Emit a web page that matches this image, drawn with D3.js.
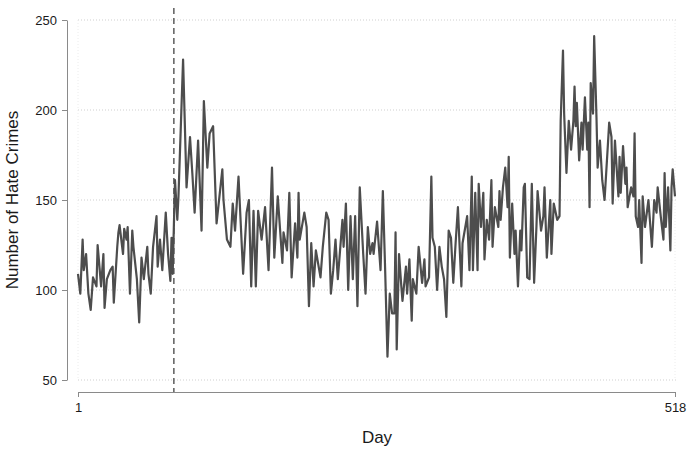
<!DOCTYPE html>
<html>
<head>
<meta charset="utf-8">
<script src="https://cdn.jsdelivr.net/npm/d3@7"></script>
<style>
  html, body { margin: 0; padding: 0; background: #fff; }
  svg { display: block; font-family: "Liberation Sans", Arial, Helvetica, sans-serif; }
</style>
</head>
<body>
<svg id="chart" width="700" height="457"></svg>
<script>
// Day index of each reading
const days = [
  1,3,5,6,8,10,12,14,17,18,21,23,24,26,29,31,32,35,36,37,40,41,43,44,46,48,49,52,54,56,58,61,
  62,64,66,69,70,72,74,77,79,81,82,83,
  85,87,88,92,95,98,100,102,105,108,110,113,115,118,121,126,127,130,133,135,137,140,
  144,147,149,151,153,155,157,160,163,166,169,171,174,178,179,182,184,186,189,191,192,193,
  197,199,201,203,205,207,211,213,216,218,220,222,224,226,230,231,233,235,237,239,241,243,
  245,248,250,252,254,256,257,260,263,265,267,269,271,273,275,276,277,279,281,282,285,286,
  288,290,291,294,296,299,301,302,305,307,308,310,312,314,316,318,320,322,324,326,328,330,
  333,334,338,340,342,343,345,347,348,350,352,353,355,357,359,360,362,365,366,367,369,371,
  373,374,375,377,379,380,382,384,385,387,388,390,392,394,396,398,399,402,404,405,407,410,
  411,413,416,418,419,421,422,424,426,428,430,431,432,433,435,437,438,440,442,443,444,445,
  447,448,450,451,453,455,457,460,461,463,464,466,469,470,471,473,475,476,477,480,482,483,
  484,486,487,489,490,492,495,496,498,500,502,503,506,508,509,510,512,514,515,516,518
];
// Number of hate crimes on those days
const crimes = [
  109,98,128,111,120,98,89,107,102,125,102,120,90,106,111,113,93,124,132,136,120,134,128,135,98,133,124,106,82,118,106,124,
  109,98,124,141,113,128,111,143,120,105,129,109,
  161,139,152,228,157,185,165,143,183,133,205,168,187,191,137,167,150,128,124,148,133,163,
  109,143,150,102,144,102,144,128,146,111,168,118,152,115,132,122,154,107,137,118,154,128,
  143,135,91,126,102,122,107,124,143,139,98,111,128,106,139,124,148,100,141,106,141,91,
  157,120,98,135,120,126,120,138,111,155,111,63,98,87,87,132,67,120,102,94,113,98,
  117,83,106,98,124,104,117,102,107,163,129,124,100,124,113,106,85,133,129,104,126,146,
  102,126,141,111,163,111,154,111,159,135,154,117,139,128,161,124,146,135,155,139,157,168,
  146,174,118,148,120,133,102,133,122,157,159,107,106,159,104,135,155,133,141,157,118,150,
  120,148,139,141,194,233,198,165,194,178,194,213,191,204,172,193,178,207,178,193,146,215,
  198,241,196,168,183,161,150,182,193,185,148,183,152,174,154,180,159,168,146,157,152,187,
  141,135,150,115,152,135,150,141,124,150,143,157,139,128,165,135,157,122,157,167,152
];
const yTicks = [50, 100, 150, 200, 250];
const xTicks = [1, 518];
const eventDay = 84;
const xTitle = "Day";
const yTitle = "Number of Hate Crimes";

const data = days.map((d, i) => ({ day: d, value: crimes[i] }));

const svg = d3.select("#chart");
const x = d3.scaleLinear().domain([1, 518]).range([78, 675]);
const y = d3.scaleLinear().domain([50, 250]).range([380, 20]);

// horizontal dotted gridlines
svg.append("g").selectAll("line").data(yTicks).join("line")
  .attr("x1", 78).attr("x2", 677)
  .attr("y1", d => y(d)).attr("y2", d => y(d))
  .attr("stroke", "#cfcfcf").attr("stroke-width", 1)
  .attr("stroke-dasharray", "1,2");

// faint vertical gridlines at the x ticks
svg.append("g").selectAll("line").data(xTicks).join("line")
  .attr("x1", d => x(d)).attr("x2", d => x(d))
  .attr("y1", y(250)).attr("y2", y(50))
  .attr("stroke", "#ececec").attr("stroke-width", 1)
  .attr("stroke-dasharray", "1,2");

// y axis
const yAxis = svg.append("g")
  .attr("transform", "translate(67,0)")
  .call(d3.axisLeft(y).tickValues(yTicks).tickSize(5).tickSizeOuter(0).tickPadding(5));
yAxis.select(".domain").attr("stroke", "#8a8a8a");
yAxis.selectAll(".tick line").attr("stroke", "#8a8a8a");
yAxis.selectAll(".tick text").attr("font-size", 13).attr("fill", "#1a1a1a")
  .attr("font-family", "Liberation Sans, Arial, sans-serif");

// x axis
const xAxis = svg.append("g")
  .attr("transform", "translate(0,392)")
  .call(d3.axisBottom(x).tickValues(xTicks).tickFormat(d3.format("d")).tickSize(5).tickSizeOuter(0).tickPadding(6));
xAxis.select(".domain").attr("stroke", "#8a8a8a");
xAxis.selectAll(".tick line").attr("stroke", "#8a8a8a");
xAxis.selectAll(".tick text").attr("font-size", 13).attr("fill", "#1a1a1a")
  .attr("font-family", "Liberation Sans, Arial, sans-serif");

// event dashed line
svg.append("line")
  .attr("x1", x(eventDay)).attr("x2", x(eventDay))
  .attr("y1", 8).attr("y2", 392)
  .attr("stroke", "#666").attr("stroke-width", 1.6)
  .attr("stroke-dasharray", "6,4");

// series line
const line = d3.line().x(d => x(d.day)).y(d => y(d.value));
svg.append("path").datum(data)
  .attr("d", line)
  .attr("fill", "none")
  .attr("stroke", "#4d4d4d")
  .attr("stroke-width", 2.2)
  .attr("stroke-linejoin", "round");

// axis titles
svg.append("text")
  .attr("transform", "translate(18,200) rotate(-90)")
  .attr("text-anchor", "middle")
  .attr("font-size", 17).attr("fill", "#1a1a1a")
  .text(yTitle);
svg.append("text")
  .attr("x", 377).attr("y", 443)
  .attr("text-anchor", "middle")
  .attr("font-size", 17).attr("fill", "#1a1a1a")
  .text(xTitle);
</script>
</body>
</html>
